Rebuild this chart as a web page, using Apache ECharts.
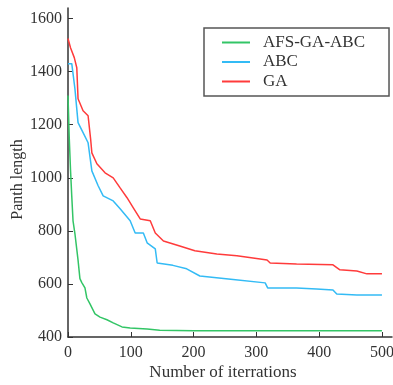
<!DOCTYPE html>
<html>
<head>
<meta charset="utf-8">
<script src="https://cdn.jsdelivr.net/npm/echarts@6/dist/echarts.min.js"></script>
<style>html,body{margin:0;padding:0;background:#fff;}#c{width:393px;height:385px;}</style>
</head>
<body>
<div id="c"></div>
<script>
var seriesNames = ['AFS-GA-ABC', 'ABC', 'GA'];
var xTicks = [0, 100, 200, 300, 400, 500];
var yTicks = [400, 600, 800, 1000, 1200, 1400, 1600];

var greenIter = [0, 2, 4, 6, 8, 11, 16, 19, 22, 27, 30, 35, 43, 51, 62, 72, 86, 99, 126, 146, 200, 500];
var greenVal  = [1310, 1150, 1030, 930, 838, 790, 690, 620, 605, 585, 547, 525, 487, 475, 465, 453, 438, 434, 430, 425, 424, 424];

var blueIter = [0, 6, 11, 16, 24, 32, 38, 48, 56, 72, 83, 99, 107, 120, 126, 139, 142, 167, 189, 210, 263, 314, 318, 364, 396, 422, 428, 460, 500];
var blueVal  = [1430, 1430, 1336, 1208, 1170, 1132, 1026, 970, 932, 913, 883, 838, 792, 792, 755, 732, 679, 670, 657, 630, 617, 604, 585, 585, 581, 577, 562, 558, 558];

var redIter = [0, 4, 10, 14, 16, 24, 32, 36, 38, 46, 59, 72, 83, 94, 104, 115, 131, 139, 152, 178, 202, 237, 269, 306, 317, 322, 364, 422, 433, 460, 476, 500];
var redVal  = [1525, 1490, 1453, 1415, 1298, 1253, 1234, 1147, 1094, 1053, 1019, 1000, 962, 925, 887, 845, 838, 792, 762, 743, 725, 713, 706, 694, 690, 679, 675, 672, 653, 649, 638, 638];

function pairs(xs, ys) { return xs.map(function (x, i) { return [x, ys[i]]; }); }
function plain(v) { return String(v); }

var font = 'Liberation Serif';
var chart = echarts.init(document.getElementById('c'), null, {renderer: 'canvas'});
chart.setOption({
  animation: false,
  backgroundColor: '#fff',
  grid: {left: 68, right: 1, top: 8, bottom: 48, containLabel: false, outerBoundsMode: 'none'},
  legend: {
    orient: 'vertical',
    left: 204, top: 28,
    padding: [6, 24, 6, 18],
    itemGap: 2.5,
    icon: 'rect',
    itemWidth: 28, itemHeight: 2,
    borderColor: '#555', borderWidth: 1.5,
    textStyle: {fontFamily: font, fontSize: 17, color: '#333', lineHeight: 14, padding: [0, 0, 0, 8]},
    data: seriesNames
  },
  xAxis: {
    type: 'value', min: 0, max: 516,
    name: 'Number of iterrations', nameLocation: 'middle', nameGap: 27, nameMoveOverlap: false,
    nameTextStyle: {fontFamily: font, fontSize: 17, color: '#333', padding: [0, 14, 0, 0]},
    axisLine: {show: true, onZero: false, lineStyle: {color: '#333', width: 1.5}},
    axisTick: {inside: true, length: 5, customValues: xTicks, lineStyle: {color: '#333'}},
    axisLabel: {customValues: xTicks, formatter: plain, fontFamily: font, fontSize: 16, color: '#333', margin: 8},
    splitLine: {show: false}
  },
  yAxis: {
    type: 'value', min: 400, max: 1640,
    name: 'Panth length', nameLocation: 'middle', nameGap: 42, nameMoveOverlap: false,
    nameTextStyle: {fontFamily: font, fontSize: 16, color: '#333', padding: [0, 14, 0, 0]},
    axisLine: {show: true, lineStyle: {color: '#333', width: 1.5}},
    axisTick: {inside: true, length: 5, customValues: yTicks, lineStyle: {color: '#333'}},
    axisLabel: {customValues: yTicks, formatter: plain, fontFamily: font, fontSize: 16, color: '#333', margin: 6},
    splitLine: {show: false}
  },
  series: [
    {name: seriesNames[0], type: 'line', symbol: 'none', data: pairs(greenIter, greenVal),
     lineStyle: {color: '#33c566', width: 1.5}, itemStyle: {color: '#33c566'}},
    {name: seriesNames[1], type: 'line', symbol: 'none', data: pairs(blueIter, blueVal),
     lineStyle: {color: '#33bbf5', width: 1.5}, itemStyle: {color: '#33bbf5'}},
    {name: seriesNames[2], type: 'line', symbol: 'none', data: pairs(redIter, redVal),
     lineStyle: {color: '#ff3b3b', width: 1.5}, itemStyle: {color: '#ff3b3b'}}
  ]
});
</script>
</body>
</html>
